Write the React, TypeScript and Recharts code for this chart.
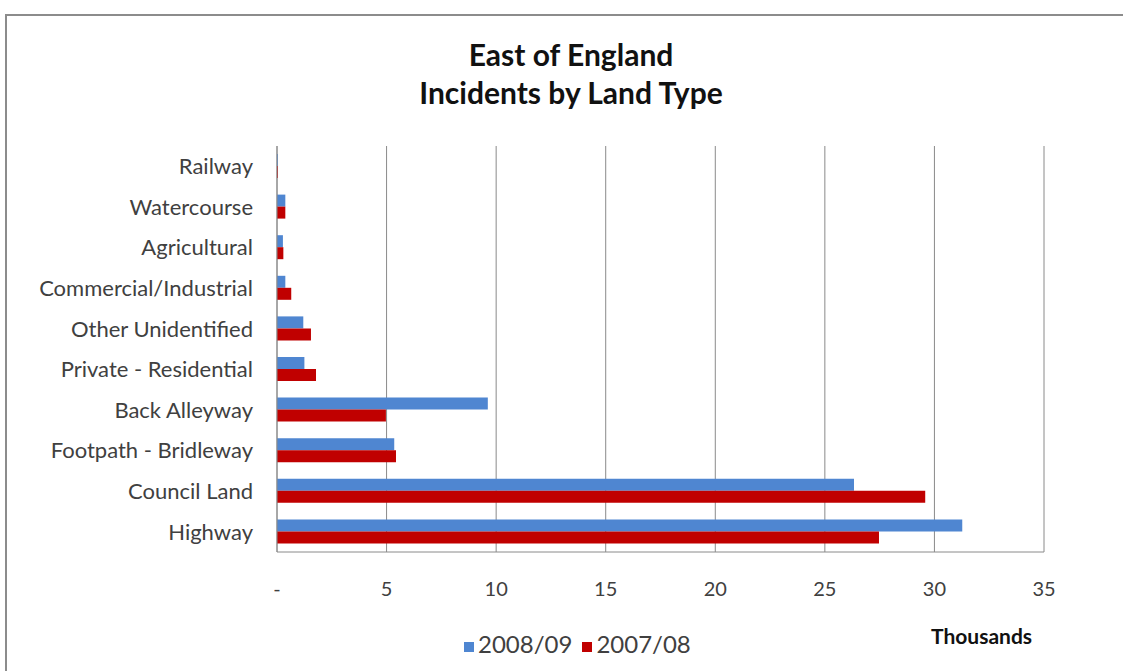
import { BarChart, Bar, XAxis, YAxis, CartesianGrid, Legend } from "recharts";

const landTypes = [
  "Railway",
  "Watercourse",
  "Agricultural",
  "Commercial/Industrial",
  "Other Unidentified",
  "Private - Residential",
  "Back Alleyway",
  "Footpath - Bridleway",
  "Council Land",
  "Highway",
];
const incidents0809 = [0.04, 0.38, 0.27, 0.38, 1.2, 1.25, 9.62, 5.35, 26.33, 31.27];
const incidents0708 = [0.04, 0.38, 0.29, 0.65, 1.55, 1.78, 4.97, 5.43, 29.58, 27.47];
const xTicks = [0, 5, 10, 15, 20, 25, 30, 35];
const seriesOrder = ["y0809", "y0708"];

const data = landTypes.map((name, i) => ({
  name,
  y0809: incidents0809[i],
  y0708: incidents0708[i],
}));

const FONT = "Lato, 'Open Sans', sans-serif";

export default function App() {
  return (
    <div
      style={{
        position: "absolute",
        left: 0,
        top: 0,
        width: 1123,
        height: 671,
        background: "#fff",
        overflow: "hidden",
        fontFamily: FONT,
      }}
    >
      {/* chart frame */}
      <div
        style={{
          position: "absolute",
          left: 5,
          top: 14,
          width: 1200,
          height: 700,
          border: "2px solid #8c8c8c",
        }}
      />
      <div
        style={{
          position: "absolute",
          left: 0,
          top: 35,
          width: 1142,
          textAlign: "center",
          fontSize: 30,
          fontWeight: 700,
          lineHeight: "38px",
          color: "#111",
        }}
      >
        East of England
        <br />
        Incidents by Land Type
      </div>
      <div
        style={{
          position: "absolute",
          left: 931,
          top: 623,
          fontSize: 21,
          fontWeight: 700,
          color: "#111",
        }}
      >
        Thousands
      </div>
      <div style={{ position: "absolute", left: 0, top: 0 }}>
        <BarChart
          width={1123}
          height={671}
          data={data}
          layout="vertical"
          barSize={12}
          barGap={0}
          margin={{ top: 146, right: 79, left: 0, bottom: 40 }}
        >
          <CartesianGrid horizontal={false} stroke="#8a8a8a" />
          <XAxis
            type="number"
            domain={[0, 35]}
            ticks={xTicks}
            interval={0}
            height={50}
            tickLine={false}
            axisLine={{ stroke: "#8a8a8a" }}
            tickMargin={24}
            tick={{ fill: "#404040", fontSize: 20, fontFamily: FONT }}
            tickFormatter={(v: number) => (v === 0 ? "-" : String(v))}
          />
          <YAxis
            type="category"
            dataKey="name"
            width={277}
            tickLine={false}
            axisLine={{ stroke: "#8a8a8a" }}
            tickMargin={18}
            interval={0}
            tick={{ fill: "#404040", fontSize: 22, fontFamily: FONT }}
          />
          <Legend
            verticalAlign="bottom"
            iconType="square"
            iconSize={10}
            itemSorter={(item: any) => seriesOrder.indexOf(item.dataKey)}
            wrapperStyle={{ left: 464, top: 629, width: "auto", fontSize: 24, fontFamily: FONT }}
            formatter={(value: string) => <span style={{ color: "#404040" }}>{value}</span>}
          />
          <Bar dataKey="y0809" name="2008/09" fill="#4F86D1" isAnimationActive={false} />
          <Bar dataKey="y0708" name="2007/08" fill="#C00000" isAnimationActive={false} />
        </BarChart>
      </div>
    </div>
  );
}
